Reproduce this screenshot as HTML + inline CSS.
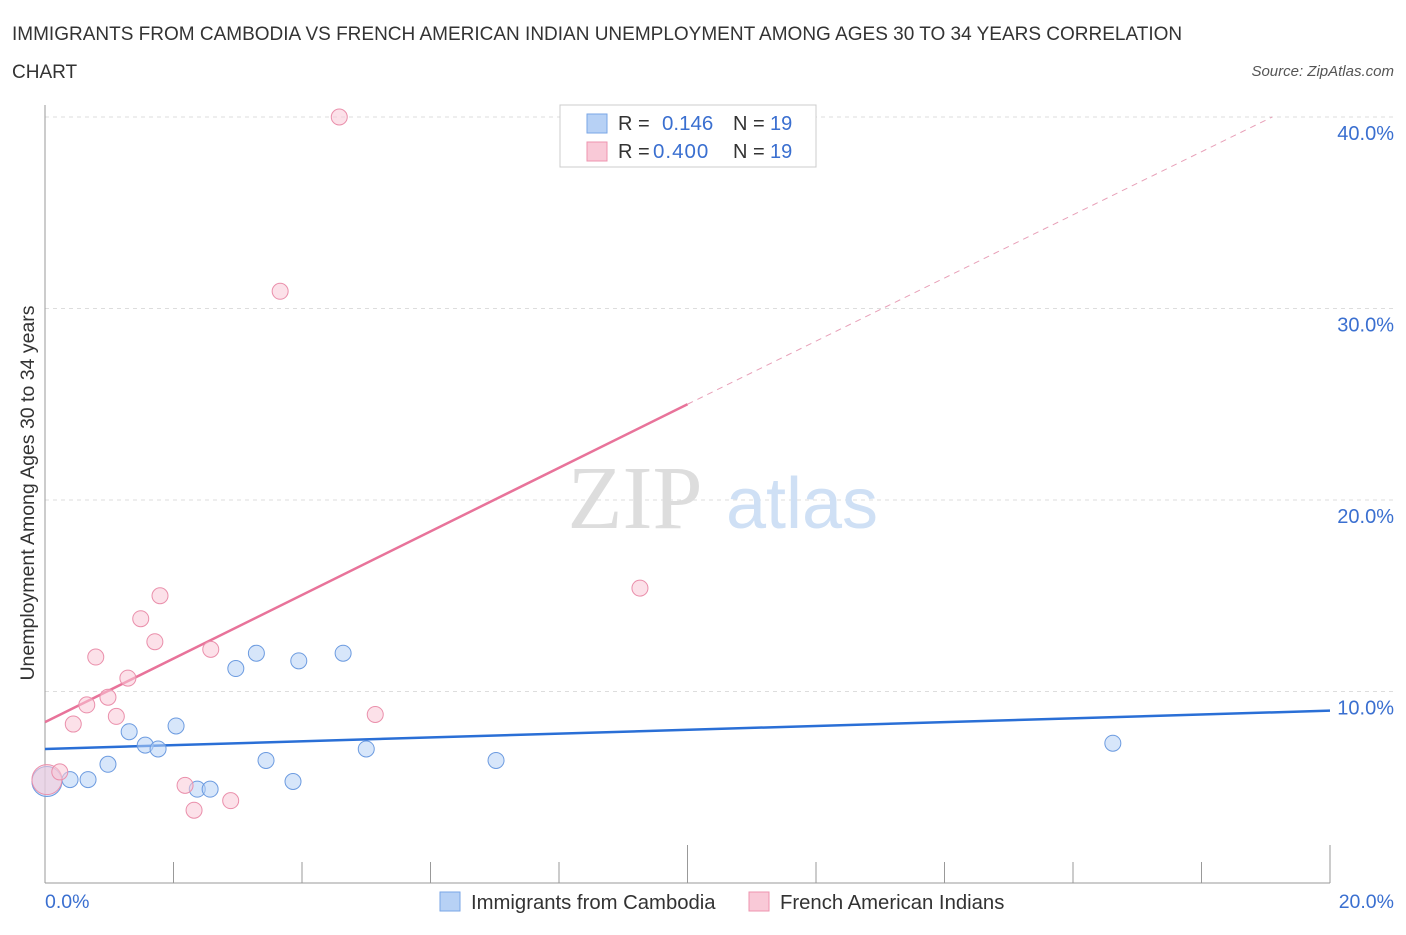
<!DOCTYPE html>
<html><head><meta charset="utf-8"><style>
body{margin:0;background:#fff;font-family:"Liberation Sans",sans-serif}
</style></head><body>
<svg width="1406" height="930" xmlns="http://www.w3.org/2000/svg" style="font-family:'Liberation Sans',sans-serif">
<text x="12" y="40" font-size="19" fill="#333">IMMIGRANTS FROM CAMBODIA VS FRENCH AMERICAN INDIAN UNEMPLOYMENT AMONG AGES 30 TO 34 YEARS CORRELATION</text>
<text x="12" y="78" font-size="19" fill="#333">CHART</text>
<text x="1394" y="76" font-size="15" fill="#555" font-style="italic" text-anchor="end">Source: ZipAtlas.com</text>
<g id="grid"></g>
<text x="635" y="528" font-size="90" fill="#ddd" text-anchor="middle" font-family="Liberation Serif">ZIP</text>
<text x="802" y="528" font-size="72" fill="#cfe0f5" text-anchor="middle">atlas</text>
<g id="lines"></g>
<g id="points"></g>
<text x="34" y="493" font-size="19.5" fill="#333" transform="rotate(-90 34 493)" text-anchor="middle">Unemployment Among Ages 30 to 34 years</text>
<text x="45" y="908" font-size="19.5" fill="#3a6fd0">0.0%</text>
<text x="1394" y="908" font-size="19.5" fill="#3a6fd0" text-anchor="end">20.0%</text>
<g>
<rect x="560" y="105" width="256" height="62" fill="#fff" stroke="#ccc"/>
<rect x="587" y="114" width="20" height="19" fill="#b7d1f5" stroke="#7aa6e6"/>
<text x="618" y="130" font-size="20" fill="#333">R =</text><text x="662" y="130" font-size="20.5" fill="#3a6fd0">0.146</text>
<text x="733" y="130" font-size="20" fill="#333">N =</text><text x="770" y="130" font-size="20" fill="#3a6fd0">19</text>
<rect x="587" y="142" width="20" height="19" fill="#f9c9d7" stroke="#ee94af"/>
<text x="618" y="158" font-size="20" fill="#333">R =</text><text x="653" y="158" font-size="20.5" fill="#3a6fd0" letter-spacing="1">0.400</text>
<text x="733" y="158" font-size="20" fill="#333">N =</text><text x="770" y="158" font-size="20" fill="#3a6fd0">19</text>
</g>
<g>
<rect x="440" y="892" width="20" height="19" fill="#b7d1f5" stroke="#7aa6e6"/>
<text x="471" y="909" font-size="20.3" fill="#333">Immigrants from Cambodia</text>
<rect x="749" y="892" width="20" height="19" fill="#f9c9d7" stroke="#ee94af"/>
<text x="780" y="909" font-size="20.3" fill="#333">French American Indians</text>
</g>
</svg>
<script>
const blueX=[0.03,0.39,0.67,0.98,1.31,1.56,1.76,2.04,2.37,2.57,2.97,3.29,3.44,3.86,3.95,4.64,5.0,7.02,16.62];
const blueY=[5.3,5.4,5.4,6.2,7.9,7.2,7.0,8.2,4.9,4.9,11.2,12.0,6.4,5.3,11.6,12.0,7.0,6.4,7.3];
const pinkX=[0.03,0.23,0.44,0.65,0.79,0.98,1.11,1.29,1.49,1.71,1.79,2.18,2.32,2.58,2.89,3.66,4.58,5.14,9.26];
const pinkY=[5.4,5.8,8.3,9.3,11.8,9.7,8.7,10.7,13.8,12.6,15.0,5.1,3.8,12.2,4.3,30.9,40.0,8.8,15.4];
const yTicks=[10,20,30,40];
const blueFit=[7.0,9.0];
const pinkFit=[8.4,25.0,40.0];
const X=v=>45+v/20*1285, Y=v=>883-v/10*191.5;
const NS='http://www.w3.org/2000/svg';
function mk(t,a,p){const e=document.createElementNS(NS,t);for(const k in a)e.setAttribute(k,a[k]);document.getElementById(p).appendChild(e);return e;}
yTicks.forEach(t=>{
const l=mk('line',{x1:45,x2:1394,y1:Y(t),y2:Y(t),stroke:'#ddd','stroke-dasharray':'4,4'},'grid');


const tx=mk('text',{x:1394,y:Y(t)+23,'font-size':20,fill:'#3a6fd0','text-anchor':'end'},'grid');
tx.textContent=t.toFixed(1)+'%';


});
const ya=mk('line',{x1:45,x2:45,y1:105,y2:883,stroke:'#999'},'grid');


const xa=mk('line',{x1:45,x2:1330,y1:883,y2:883,stroke:'#999'},'grid');


for(let i=0;i<=10;i++){const t=mk('line',{x1:X(i*2),x2:X(i*2),y1:883,y2:i%5==0?845:862,stroke:'#999'},'grid');

}
const bl=mk('line',{x1:X(0),y1:Y(blueFit[0]),x2:X(20),y2:Y(blueFit[1]),stroke:'#2a6fd6','stroke-width':2.5},'lines');


const px2=10, px3=19.1;
const pl=mk('line',{x1:X(0),y1:Y(pinkFit[0]),x2:X(px2),y2:Y(pinkFit[1]),stroke:'#e8739a','stroke-width':2.5},'lines');


const pd=mk('line',{x1:X(px2),y1:Y(pinkFit[1]),x2:X(px3),y2:Y(pinkFit[2]),stroke:'#e8a0b8','stroke-width':1,'stroke-dasharray':'6,5'},'lines');


function pts(xs,ys,f,s,name){xs.forEach((x,i)=>{const c=mk('circle',{cx:X(x),cy:Y(ys[i]),r:i==0?15:8,fill:f,'fill-opacity':0.55,stroke:s,'stroke-width':1},'points');

});}
pts(blueX,blueY,'#b7d1f5','#6c9be0','point-cambodia');
pts(pinkX,pinkY,'#f9c9d7','#ea8fab','point-french');
</script>
</body></html>
